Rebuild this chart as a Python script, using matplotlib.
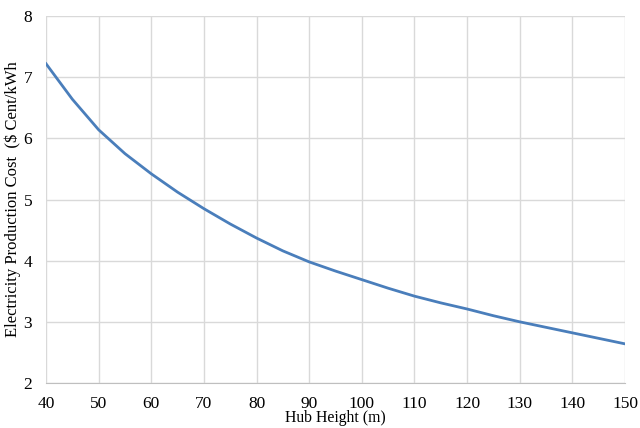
import matplotlib
matplotlib.use("Agg")
import matplotlib.pyplot as plt

# hub height (m) vs electricity production cost
hub_height = [40, 45, 50, 55, 60, 65, 70, 75, 80, 85, 90, 95, 100, 105, 110,
              115, 120, 125, 130, 135, 140, 145, 150]
cost = [7.22, 6.64, 6.14, 5.75, 5.42, 5.12, 4.85, 4.60, 4.37, 4.16, 3.98, 3.83,
        3.69, 3.55, 3.42, 3.31, 3.21, 3.10, 3.00, 2.91, 2.82, 2.73, 2.64]

x_ticks = [40, 50, 60, 70, 80, 90, 100, 110, 120, 130, 140, 150]
y_ticks = [2, 3, 4, 5, 6, 7, 8]

plt.rcParams['font.family'] = ['Liberation Serif', 'DejaVu Serif']

fig = plt.figure(figsize=(6.4, 4.28), dpi=100)
ax = fig.add_axes([46 / 640, 1 - 383 / 428, (625 - 46) / 640, (383 - 16) / 428])

ax.plot(hub_height, cost, color='#4a7ebb', linewidth=2)

ax.set_xlim(40, 150)
ax.set_ylim(2, 8)
ax.set_xticks(x_ticks)
ax.set_yticks(y_ticks)
ax.grid(True, color='#d9d9d9', linewidth=1)
ax.set_axisbelow(True)
for side in ['top', 'right', 'left']:
    ax.spines[side].set_visible(False)
ax.spines['bottom'].set_color('#bfbfbf')
ax.tick_params(axis='x', length=0, labelsize=12.5, pad=9)
ax.tick_params(axis='y', length=0, labelsize=12.5, pad=10)

ax.set_xlabel('Hub Height (m)', fontsize=11.3, labelpad=-1)
ax.set_ylabel('Electricity Production Cost  ($ Cent/kWh', fontsize=12, labelpad=2)

fig.savefig('out.png', dpi=100)
